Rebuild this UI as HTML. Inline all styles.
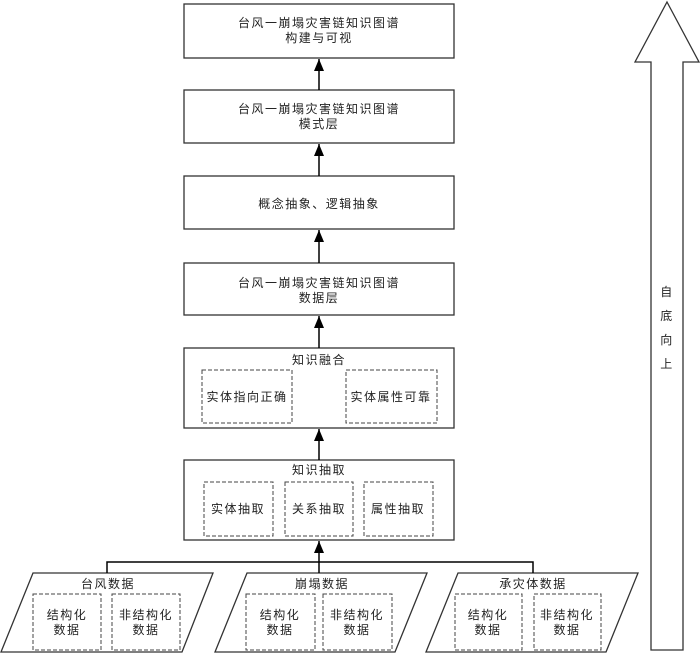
<!DOCTYPE html>
<html><head><meta charset="utf-8"><style>
html,body{margin:0;padding:0;background:#fff;}
svg{display:block;}
text{font-family:"Liberation Sans","Noto Sans CJK SC",sans-serif;font-size:12px;fill:#222;letter-spacing:1.5px;}
</style></head><body>
<svg width="700" height="653" viewBox="0 0 700 653" xmlns="http://www.w3.org/2000/svg">
<defs><marker id="a" markerWidth="12" markerHeight="10" refX="12" refY="5" orient="auto" markerUnits="userSpaceOnUse"><path d="M0,0 L12,5 L0,10 Z" fill="#000"/></marker></defs>
<g fill="#fff" stroke="#333" stroke-width="1.3">
<rect x="184" y="4" width="270" height="54"/>
<rect x="184" y="90" width="270" height="53"/>
<rect x="184" y="176" width="270" height="53"/>
<rect x="184" y="263" width="270" height="52"/>
<rect x="184" y="348" width="270" height="80"/>
<rect x="184" y="460" width="270" height="80"/>
<polygon points="33,573 213,573 182,652 1,652"/>
<polygon points="247,573 427,573 395,652 215,652"/>
<polygon points="458,573 638,573 606,652 426,652"/>
<polygon points="667,2 699,62 683,62 683,650 651,650 651,62 635,62"/>
</g>
<g fill="none" stroke="#444" stroke-width="1" stroke-dasharray="4,2">
<rect x="202" y="370" width="90" height="53"/>
<rect x="346" y="370" width="91" height="53"/>
<rect x="204" y="482" width="69" height="54"/>
<rect x="285" y="482" width="68" height="54"/>
<rect x="364" y="482" width="69" height="54"/>
<rect x="33" y="594" width="68" height="56"/>
<rect x="112" y="594" width="68" height="56"/>
<rect x="246" y="594" width="69" height="56"/>
<rect x="323" y="594" width="69" height="56"/>
<rect x="455" y="594" width="67" height="56"/>
<rect x="534" y="594" width="67" height="56"/>
</g>
<g stroke="#000" stroke-width="1.5" fill="none">
<line x1="319" y1="90" x2="319" y2="59" marker-end="url(#a)"/>
<line x1="319" y1="176" x2="319" y2="144" marker-end="url(#a)"/>
<line x1="319" y1="263" x2="319" y2="230" marker-end="url(#a)"/>
<line x1="319" y1="348" x2="319" y2="316" marker-end="url(#a)"/>
<line x1="319" y1="460" x2="319" y2="429" marker-end="url(#a)"/>
<line x1="319" y1="573" x2="319" y2="541" marker-end="url(#a)"/>
<polyline points="107,573 107,562 533,562 533,573"/>
</g>
<g text-anchor="middle">
<text x="319" y="27">台风一崩塌灾害链知识图谱</text>
<text x="319" y="42">构建与可视</text>
<text x="319" y="113">台风一崩塌灾害链知识图谱</text>
<text x="319" y="128">模式层</text>
<text x="319" y="208">概念抽象、逻辑抽象</text>
<text x="319" y="287">台风一崩塌灾害链知识图谱</text>
<text x="319" y="302">数据层</text>
<text x="319" y="364">知识融合</text>
<text x="247" y="401">实体指向正确</text>
<text x="391" y="401">实体属性可靠</text>
<text x="319" y="474">知识抽取</text>
<text x="238" y="513">实体抽取</text>
<text x="319" y="513">关系抽取</text>
<text x="398" y="513">属性抽取</text>
<text x="108" y="588">台风数据</text>
<text x="322" y="588">崩塌数据</text>
<text x="533" y="588">承灾体数据</text>
<text x="67" y="619">结构化</text><text x="67" y="634">数据</text>
<text x="146" y="619">非结构化</text><text x="146" y="634">数据</text>
<text x="280" y="619">结构化</text><text x="280" y="634">数据</text>
<text x="357" y="619">非结构化</text><text x="357" y="634">数据</text>
<text x="488" y="619">结构化</text><text x="488" y="634">数据</text>
<text x="567" y="619">非结构化</text><text x="567" y="634">数据</text>
<text x="667" y="296">自</text>
<text x="667" y="320">底</text>
<text x="667" y="344">向</text>
<text x="667" y="368">上</text>
</g>
</svg>
</body></html>
